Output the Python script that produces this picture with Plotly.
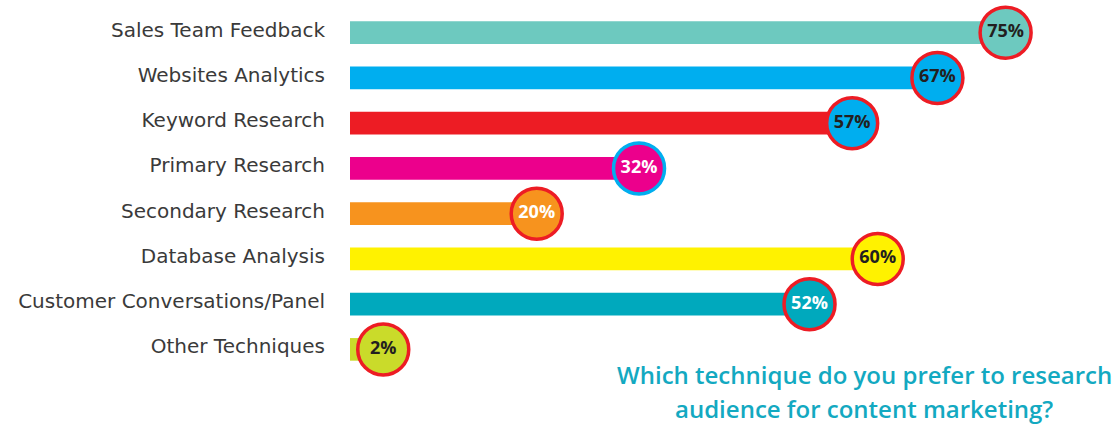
import plotly.graph_objects as go

# Survey answers, top to bottom
categories = [
    "Sales Team Feedback",
    "Websites Analytics",
    "Keyword Research",
    "Primary Research",
    "Secondary Research",
    "Database Analysis",
    "Customer Conversations/Panel",
    "Other Techniques",
]
values = [75, 67, 57, 32, 20, 60, 52, 2]

bar_colors = ["#6dc9bf", "#00aeef", "#ed1c24", "#ec008c", "#f7931e", "#fff200", "#00a9bd", "#cadb2a"]
badge_fill = ["#6dc9bf", "#00aeef", "#00aeef", "#ec008c", "#f7931e", "#fff200", "#00a9bd", "#cadb2a"]
badge_ring = ["#ed1c24", "#ed1c24", "#ed1c24", "#00aeef", "#ed1c24", "#ed1c24", "#ed1c24", "#ed1c24"]
badge_text = ["#231f20", "#231f20", "#231f20", "#ffffff", "#ffffff", "#231f20", "#ffffff", "#231f20"]

title_lines = ["Which technique do you prefer to research", "audience for content marketing?"]

# badge sits a little past the end of its bar (data units)
BADGE_SHIFT = 1.9

fig = go.Figure()

fig.add_trace(go.Bar(
    x=values,
    y=categories,
    orientation="h",
    marker=dict(color=bar_colors, line=dict(width=0)),
    width=0.5,
    hoverinfo="skip",
))

fig.add_trace(go.Scatter(
    x=[v + BADGE_SHIFT for v in values],
    y=categories,
    mode="markers+text",
    marker=dict(size=51, color=badge_fill, line=dict(color=badge_ring, width=3.5)),
    text=[f"{v}%" for v in values],
    textposition="middle center",
    textfont=dict(family="Open Sans", size=18, color=badge_text, weight="bold"),
    cliponaxis=False,
    hoverinfo="skip",
))

fig.update_layout(
    width=1119,
    height=425,
    margin=dict(l=350, r=0, t=10, b=53),
    paper_bgcolor="white",
    plot_bgcolor="white",
    showlegend=False,
    xaxis=dict(visible=False, range=[0, 90.2], fixedrange=True),
    yaxis=dict(
        type="category",
        categoryorder="array",
        categoryarray=categories,
        range=[7.5, -0.5],
        showgrid=False,
        showline=False,
        zeroline=False,
        ticks="",
        ticklabelstandoff=24,
        ticklabelshift=3,
        tickfont=dict(family="DejaVu Sans", size=20, color="#3a3a3a"),
        fixedrange=True,
    ),
)

for line, ypix in zip(title_lines, [374, 409]):
    fig.add_annotation(
        text=line,
        xref="paper", yref="paper",
        x=(864 - 350) / 769,
        y=(372 - ypix) / 362,
        xanchor="center", yanchor="middle",
        showarrow=False,
        font=dict(family="Open Sans", size=24, color="#13a9c1", weight=600),
    )

fig.write_html("out.html")
